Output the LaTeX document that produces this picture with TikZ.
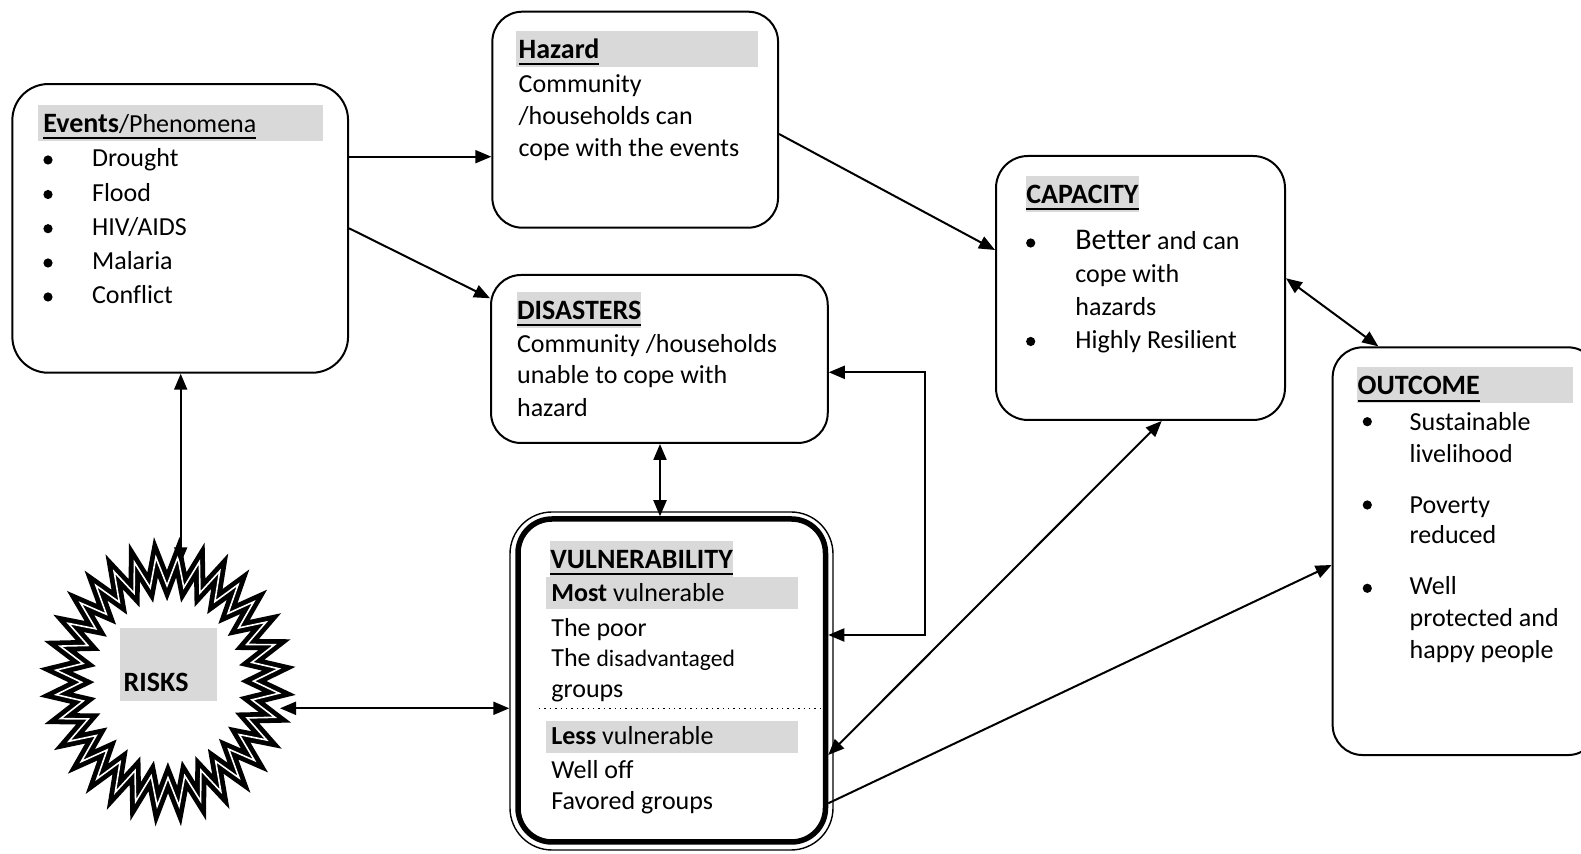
\documentclass[tikz,border=0pt]{standalone}
\usepackage{fontspec}
\setmainfont{Carlito}[Ligatures=NoCommon]
\usetikzlibrary{arrows.meta,calc}
\definecolor{hl}{RGB}{217,217,217}
\newcommand\ulx[1]{\setbox0\hbox{#1}\rlap{\rule[-3.4pt]{\wd0}{1pt}}\box0}
\newcommand\bodyfs{\fontsize{13pt}{16pt}\selectfont}
\tikzset{
  box/.style={draw, rectangle, line width=1pt, rounded corners=15pt, inner sep=0pt},
  txt/.style={anchor=base west, inner sep=0pt, font=\bodyfs},
  ttl/.style={anchor=base west, inner sep=0pt, font=\fontsize{14pt}{16pt}\selectfont\bfseries},
  hltl/.style={ttl, fill=hl, text height=13.6pt, text depth=4.2pt},
  bul/.style={circle, fill=black, inner sep=0pt, minimum size=4.6pt},
  arr/.style={line width=1pt, -{Triangle[length=8pt,width=6.5pt]}},
  darr/.style={line width=1pt, {Triangle[length=8pt,width=6.5pt]}-{Triangle[length=8pt,width=6.5pt]}},
}
\begin{document}
\begin{tikzpicture}[x=0.5pt,y=-0.5pt]
\useasboundingbox (0,0) rectangle (1581,854);
\fill[white] (0,0) rectangle (1581,854);
\clip (0,0) rectangle (1581,854);

% Events
\node[box, rounded corners=18pt, minimum width=167.85pt, minimum height=144.35pt] (events) at (180.2,228.4) {};
\fill[hl] (37.7,105) rectangle (322.7,140.7);
\node[txt] (evtitle) at (43,132.3) {\ulx{{\fontsize{14pt}{16pt}\selectfont\bfseries Events}/Phenomena}};
\node[bul] (eb1) at (48,160) {};
\node[bul] (eb2) at (48,194.5) {};
\node[bul] (eb3) at (48,228.7) {};
\node[bul] (eb4) at (48,263) {};
\node[bul] (eb5) at (48,297) {};
\node[txt] (et1) at (91.7,167) {Drought};
\node[txt] (et2) at (91.7,201.5) {Flood};
\node[txt] (et3) at (91.7,235.7) {HIV/AIDS};
\node[txt] (et4) at (91.7,270) {Malaria};
\node[txt] (et5) at (91.7,304) {Conflict};

% Hazard
\node[box, minimum width=142.85pt, minimum height=108pt] (hazard) at (635.2,119.7) {};
\fill[hl] (516,31) rectangle (757.7,66.7);
\node[ttl] (hztitle) at (518.3,58.3) {\ulx{Hazard}};
\node[txt] (hz1) at (518.3,92.3) {Community};
\node[txt] (hz2) at (518.3,124.3) {/households can};
\node[txt] (hz3) at (518.3,156.7) {cope with the events};

% Disasters
\node[box, minimum width=168.35pt, minimum height=84pt] (disasters) at (659.4,359) {};
\node[hltl] (dstitle) at (516.7,319.3) {\ulx{DISASTERS}};
\node[txt] (ds1) at (516.7,352.3) {Community /households};
\node[txt] (ds2) at (516.7,384) {unable to cope with};
\node[txt] (ds3) at (516.7,416.7) {hazard};

% Capacity
\node[box, rounded corners=16pt, minimum width=144.5pt, minimum height=132pt] (capacity) at (1140.5,288) {};
\node[hltl] (cptitle) at (1026,203.3) {\ulx{CAPACITY}};
\node[bul] (cb1) at (1030.7,243) {};
\node[bul] (cb2) at (1030.7,341.5) {};
\node[txt] (cp1) at (1075,250) {{\fontsize{15pt}{17pt}\selectfont Better} and can};
\node[txt] (cp2) at (1075,282.7) {cope with};
\node[txt] (cp3) at (1075,315.7) {hazards};
\node[txt] (cp4) at (1075,348.3) {Highly Resilient};

% Outcome
\node[box, minimum width=132.65pt, minimum height=203.85pt] (outcome) at (1465.3,551.2) {};
\fill[hl] (1356.7,367.3) rectangle (1573.3,402.7);
\node[ttl] (octitle) at (1357.3,395) {\ulx{OUTCOME}};
\node[bul] (ob1) at (1367.3,421.7) {};
\node[bul] (ob2) at (1367.3,505) {};
\node[bul] (ob3) at (1367.3,588.3) {};
\node[txt] (oc1) at (1409.3,430.7) {Sustainable};
\node[txt] (oc2) at (1409.3,462.7) {livelihood};
\node[txt] (oc3) at (1409.3,513.3) {Poverty};
\node[txt] (oc4) at (1409.3,544) {reduced};
\node[txt] (oc5) at (1409.3,595) {Well};
\node[txt] (oc6) at (1409.3,626.7) {protected and};
\node[txt] (oc7) at (1409.3,658.3) {happy people};

% Vulnerability
\node[draw, rectangle, line width=0.7pt, rounded corners=21pt, minimum width=161.5pt, minimum height=169pt, inner sep=0pt] (vulnout) at (671.5,681) {};
\node[draw, rectangle, line width=2.75pt, rounded corners=17pt, minimum width=153.75pt, minimum height=161.5pt, inner sep=0pt] (vuln) at (671.75,680.5) {};
\node[hltl] (vltitle) at (550,568.3) {\ulx{VULNERABILITY}};
\fill[hl] (546,577.3) rectangle (797.7,609.3);
\node[txt] (vl1) at (551,601.7) {\textbf{Most} vulnerable};
\node[txt] (vl2) at (551,636.7) {The poor};
\node[txt] (vl3) at (551,667) {The {\fontsize{11.8pt}{14pt}\selectfont disadvantaged}};
\node[txt] (vl4) at (551,698) {groups};
\draw[dotted, line width=0.7pt] (539,708.3) -- (823,708.3);
\fill[hl] (546,720.7) rectangle (797.7,753.3);
\node[txt] (vl5) at (551,745) {\textbf{Less} vulnerable};
\node[txt] (vl6) at (551,778.3) {Well off};
\node[txt] (vl7) at (551,809.3) {Favored groups};

% Risks star
\draw[line width=2.4pt, double=white, double distance=0.8pt, line join=miter, miter limit=25]
  plot[samples at={0,...,63}] ({167.5+(112-26*mod(\x,2))*sin(\x*5.625+5.3)}, {681.7-(125-29*mod(\x,2))*cos(\x*5.625+5.3)}) -- cycle;
\fill[hl] (120,628.3) rectangle (216.7,700.7);
\node[ttl] (risks) at (123.3,691.7) {RISKS};
\coordinate (startop) at (180.7,563.3);
\coordinate (starright) at (280,708.3);

% Connectors
\draw[arr] (events.east |- 0,156.7) -- (hazard.west |- 0,156.7);
\draw[arr] (events.east |- 0,228.3) -- (disasters.west |- 0,298.3);
\draw[arr] (hazard.east |- 0,134) -- (capacity.west |- 0,250);
\draw[darr] (capacity.east |- 0,278.3) -- (outcome.north -| 1378.3,0);
\draw[darr] (disasters.south -| 660,0) -- (vuln.north -| 660,0);
\draw[darr] (events.south -| 180.7,0) -- (startop);
\draw[darr] (starright) -- (vulnout.west |- starright);
\coordinate (loopbr) at (925,635);
\draw[darr] (vuln.east |- loopbr) -- (loopbr) |- (disasters.east |- 0,372.3);
\draw[darr] (capacity.south -| 1161.7,0) -- (vuln.east |- 0,755);
\draw[arr] (vuln.east |- 0,803.3) -- (outcome.west |- 0,565);
\end{tikzpicture}
\end{document}
